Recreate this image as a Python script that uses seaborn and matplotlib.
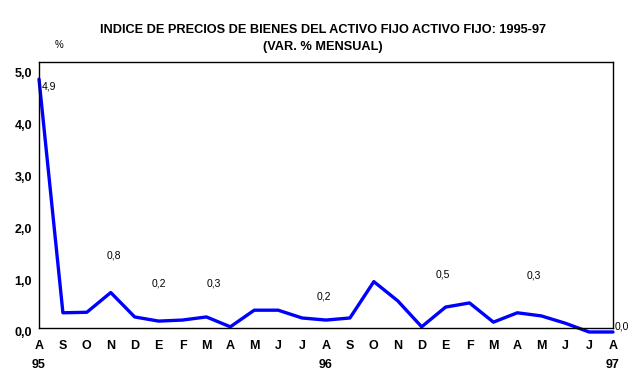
#libraries
import numpy as np
import pandas as pd
import matplotlib
matplotlib.use('Agg')
import matplotlib.pyplot as plt
import seaborn as sns

#monthly data aug 95 - aug 97
months = ['A', 'S', 'O', 'N', 'D', 'E', 'F', 'M', 'A', 'M', 'J', 'J',
          'A', 'S', 'O', 'N', 'D', 'E', 'F', 'M', 'A', 'M', 'J', 'J', 'A']
years = {0: '95', 12: '96', 24: '97'}
var_mensual = [4.87, 0.37, 0.38, 0.76, 0.29, 0.21, 0.23, 0.29, 0.10, 0.42, 0.42, 0.27,
               0.23, 0.27, 0.97, 0.60, 0.10, 0.48, 0.56, 0.19, 0.37, 0.31, 0.17, 0.0, 0.0]

#points that get a value label, and where the label sits
label_idx = [0, 3, 5, 7, 12, 17, 21, 24]
label_x = [0.1, 3.15, 5.0, 7.3, 11.9, 16.9, 20.7, 24.05]
label_y = [4.72, 1.47, 0.93, 0.93, 0.68, 1.10, 1.08, 0.10]
label_ha = ['left', 'center', 'center', 'center', 'center', 'center', 'center', 'left']

df = pd.DataFrame({'pos': np.arange(len(months)), 'var': var_mensual})

sns.set_style('white')
plt.rcParams['font.family'] = ['Liberation Sans', 'DejaVu Sans']
plt.rcParams['text.color'] = 'black'

fig = plt.figure(figsize=(6.39, 3.78), dpi=100)
ax = fig.add_axes([39/639, 1 - 332/378, (613-39)/639, (332-62)/378])

sns.lineplot(data=df, x='pos', y='var', color='#0000ff', linewidth=2.4, ax=ax)
for ln in ax.lines:
    ln.set_clip_on(False)

ax.set_xlim(0, 24)
ax.set_ylim(0, 5.2)
base = 0.08
ax.spines['bottom'].set_position(('data', base))
ax.spines['left'].set_bounds(base, 5.2)
ax.spines['right'].set_bounds(base, 5.2)
for s in ax.spines.values():
    s.set_color('black')
    s.set_linewidth(1)

ax.set_xticks(range(len(months)))
ax.set_xticklabels([m + ('\n' + years[i] if i in years else '') for i, m in enumerate(months)],
                   fontweight='bold', fontsize=9, linespacing=1.75, va='top')
ax.set_yticks(np.arange(0, 5.1, 1.0))
ax.set_yticklabels([f'{v:.1f}'.replace('.', ',') for v in np.arange(0, 5.1, 1.0)],
                   fontweight='bold', fontsize=9)
ax.tick_params(axis='x', direction='inout', length=8, width=1, pad=5, colors='black')
ax.tick_params(axis='y', direction='inout', length=8, width=1, pad=1, colors='black')
ax.set_xlabel('')
ax.set_ylabel('')

for i, lx, ly, ha in zip(label_idx, label_x, label_y, label_ha):
    txt = f'{var_mensual[i]:.1f}'.replace('.', ',')
    ax.text(lx, ly, txt, fontsize=7.5, ha=ha, va='center', color='black')

fig.text(0.505, 1 - 30/378, 'INDICE DE PRECIOS DE BIENES DEL ACTIVO FIJO ACTIVO FIJO: 1995-97',
         ha='center', va='center', fontsize=9.2, fontweight='bold', color='black')
fig.text(0.505, 1 - 47/378, '(VAR. % MENSUAL)', ha='center', va='center', fontsize=9.2,
         fontweight='bold', color='black')
fig.text(59/639, 1 - 45/378, '%', ha='center', va='center', fontsize=7, color='black')

plt.savefig('out.png', dpi=100)
